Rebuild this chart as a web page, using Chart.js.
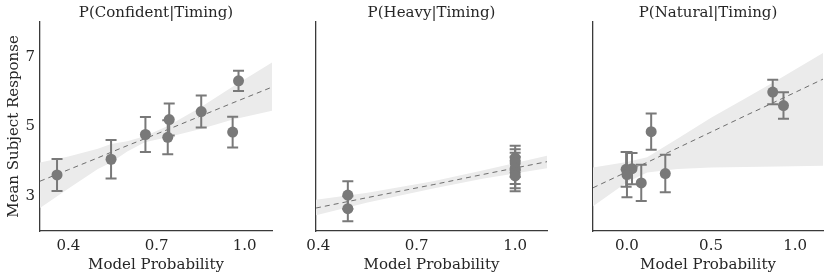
<!DOCTYPE html>
<html>
<head>
<meta charset="utf-8">
<script src="https://cdn.jsdelivr.net/npm/chart.js@4.4.1/dist/chart.umd.min.js"></script>
<style>
  html, body { margin: 0; padding: 0; background: #fff; }
  #wrap { position: relative; width: 830px; height: 279px; }
  #wrap canvas { position: absolute; top: 0; }
</style>
</head>
<body>
<div id="wrap">
  <canvas id="c1" width="280" height="279" style="left:0"></canvas>
  <canvas id="c2" width="275" height="279" style="left:280px"></canvas>
  <canvas id="c3" width="275" height="279" style="left:555px"></canvas>
</div>
<script>
const titles = ['P(Confident|Timing)', 'P(Heavy|Timing)', 'P(Natural|Timing)']
const yTicks = [3, 5, 7]
const xTicks1 = [0.4, 0.7, 1.0]
const xTicks2 = [0.4, 0.7, 1.0]
const xTicks3 = [0.0, 0.5, 1.0]

// panel 1: confident
const prob1 = [0.361, 0.545, 0.662, 0.738, 0.743, 0.852, 0.959, 0.979]
const mean1 = [3.61, 4.06, 4.77, 4.69, 5.20, 5.43, 4.84, 6.31]
const err1 = [0.46, 0.55, 0.50, 0.49, 0.46, 0.46, 0.44, 0.29]
const fitX1 = [0.303, 0.40, 0.50, 0.545, 0.60, 0.66, 0.74, 0.85, 0.96, 1.093]
const fitY1 = [3.43, 3.76, 4.10, 4.26, 4.45, 4.65, 4.92, 5.30, 5.68, 6.13]
const bandHi1 = [3.97, 4.14, 4.36, 4.50, 4.58, 4.72, 5.02, 5.55, 6.15, 6.84]
const bandLo1 = [2.66, 3.22, 3.78, 3.97, 4.28, 4.55, 4.70, 4.93, 5.20, 5.45]

// panel 2: heavy
const prob2 = [0.49, 0.49, 1.0, 1.0, 1.0, 1.0, 1.0]
const mean2 = [3.03, 2.64, 4.10, 3.95, 3.80, 3.68, 3.58]
const err2 = [0.40, 0.36, 0.35, 0.40, 0.45, 0.45, 0.44]
const fitX2 = [0.393, 0.55, 0.75, 0.90, 1.097]
const fitY2 = [2.66, 2.96, 3.33, 3.62, 3.99]
const bandHi2 = [2.90, 3.10, 3.43, 3.74, 4.16]
const bandLo2 = [2.45, 2.82, 3.22, 3.50, 3.80]

// panel 3: natural
const prob3 = [-0.005, 0.03, 0.0, 0.085, 0.144, 0.228, 0.867, 0.931]
const mean3 = [3.77, 3.79, 3.62, 3.38, 4.85, 3.65, 5.99, 5.60]
const err3 = [0.50, 0.45, 0.65, 0.52, 0.52, 0.54, 0.35, 0.38]
const fitX3 = [-0.202, 0.0, 0.12, 0.30, 0.50, 0.70, 0.90, 1.166]
const fitY3 = [3.24, 3.70, 3.97, 4.38, 4.84, 5.30, 5.75, 6.36]
const bandHi3 = [3.82, 3.98, 4.12, 4.65, 5.25, 5.80, 6.35, 7.11]
const bandLo3 = [2.71, 3.40, 3.68, 3.78, 3.82, 3.84, 3.85, 3.87]

const ink = '#262626'
const dotGrey = '#797979'
const serif = 'DejaVu Serif'

const toPts = (xs, ys) => xs.map((x, i) => ({ x, y: ys[i] }))

// draws the error bars just before the point dataset
const errorBars = {
  id: 'errorBars',
  beforeDatasetDraw (chart, args) {
    const ds = chart.data.datasets[args.index]
    if (!ds.errors) return
    const { ctx } = chart
    const xs = chart.scales.x
    const ys = chart.scales.y
    ctx.save()
    ctx.strokeStyle = dotGrey
    ctx.lineWidth = 2
    ds.data.forEach((p, i) => {
      const px = xs.getPixelForValue(p.x)
      const top = ys.getPixelForValue(p.y + ds.errors[i])
      const bot = ys.getPixelForValue(p.y - ds.errors[i])
      ctx.beginPath()
      ctx.moveTo(px, top)
      ctx.lineTo(px, bot)
      ctx.moveTo(px - 5.5, top)
      ctx.lineTo(px + 5.5, top)
      ctx.moveTo(px - 5.5, bot)
      ctx.lineTo(px + 5.5, bot)
      ctx.stroke()
    })
    ctx.restore()
  }
}

function makePanel (id, p) {
  return new Chart(document.getElementById(id), {
    type: 'scatter',
    data: {
      datasets: [
        {
          data: toPts(p.prob, p.mean),
          errors: p.err,
          backgroundColor: dotGrey,
          borderWidth: 0,
          pointRadius: 5.5,
          order: 1
        },
        {
          data: toPts(p.fitX, p.fitY),
          showLine: true,
          borderColor: '#6e6e6e',
          borderWidth: 1,
          borderDash: [5, 4],
          pointRadius: 0,
          order: 2
        },
        {
          data: toPts(p.fitX, p.bandHi),
          showLine: true,
          borderWidth: 0,
          borderColor: 'rgba(0,0,0,0)',
          pointRadius: 0,
          order: 4
        },
        {
          data: toPts(p.fitX, p.bandLo),
          showLine: true,
          borderWidth: 0,
          borderColor: 'rgba(0,0,0,0)',
          backgroundColor: '#ebebeb',
          fill: '-1',
          pointRadius: 0,
          order: 3
        }
      ]
    },
    options: {
      responsive: false,
      animation: false,
      layout: { padding: { right: p.padRight } },
      plugins: {
        legend: { display: false },
        tooltip: { enabled: false },
        title: {
          display: true,
          text: p.title,
          fullSize: false,
          color: ink,
          font: { family: serif, size: 15, weight: 'normal' },
          padding: { top: 4, bottom: 0 }
        }
      },
      scales: {
        x: {
          type: 'linear',
          min: p.xMin,
          max: p.xMax,
          grid: { display: false, drawTicks: false },
          border: { display: true, color: '#3a3a3a', width: 1.3 },
          afterBuildTicks: s => { s.ticks = p.xTicks.map(v => ({ value: v })) },
          afterFit: s => { s.height = 48 },
          ticks: {
            color: ink,
            padding: 6,
            maxRotation: 0,
            autoSkip: false,
            font: { family: serif, size: 15 },
            callback: v => v.toFixed(1)
          },
          title: {
            display: true,
            text: 'Model Probability',
            color: ink,
            font: { family: serif, size: 15 },
            padding: { top: 0, bottom: 5 }
          }
        },
        y: {
          type: 'linear',
          min: 2,
          max: 8,
          grid: { display: false, drawTicks: false },
          border: { display: true, color: '#3a3a3a', width: 1.3 },
          afterBuildTicks: s => { s.ticks = yTicks.map(v => ({ value: v })) },
          afterFit: s => { s.width = p.yWidth },
          ticks: {
            display: p.showY,
            color: ink,
            padding: 5,
            font: { family: serif, size: 15 }
          },
          title: {
            display: p.showY,
            text: 'Mean Subject Response',
            color: ink,
            font: { family: serif, size: 15 },
            padding: { top: 5, bottom: 0 }
          }
        }
      }
    },
    plugins: [errorBars]
  })
}

makePanel('c1', {
  title: titles[0], prob: prob1, mean: mean1, err: err1,
  fitX: fitX1, fitY: fitY1, bandHi: bandHi1, bandLo: bandLo1,
  xMin: 0.303, xMax: 1.093, xTicks: xTicks1, yWidth: 40, padRight: 8, showY: true
})
makePanel('c2', {
  title: titles[1], prob: prob2, mean: mean2, err: err2,
  fitX: fitX2, fitY: fitY2, bandHi: bandHi2, bandLo: bandLo2,
  xMin: 0.393, xMax: 1.097, xTicks: xTicks2, yWidth: 36, padRight: 8, showY: false
})
makePanel('c3', {
  title: titles[2], prob: prob3, mean: mean3, err: err3,
  fitX: fitX3, fitY: fitY3, bandHi: bandHi3, bandLo: bandLo3,
  xMin: -0.202, xMax: 1.166, xTicks: xTicks3, yWidth: 38, padRight: 7, showY: false
})
</script>
</body>
</html>
